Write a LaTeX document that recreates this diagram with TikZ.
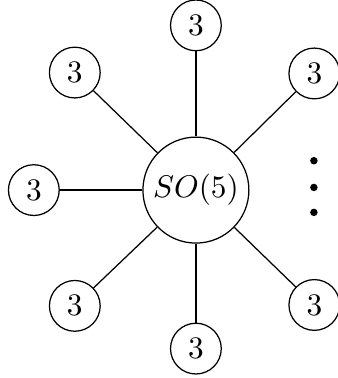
\documentclass[tikz,border=0pt]{standalone}
\begin{document}
\begin{tikzpicture}[flav/.style={draw, circle, minimum size=0.57cm, inner sep=0pt}]
    \useasboundingbox (-2.20,-2.11) rectangle (1.585,2.135);

    % Draw the gauge node
    \node[draw, circle, minimum size=1.19cm, inner sep=0pt] (so5) at (0, 0) {$SO(5)$};

    % Draw the flavour nodes
    \node[flav] (top) at (0, 1.85) {$3$};
    \node[flav] (topleft) at (-1.36, 1.32) {$3$};
    \node[flav] (left) at (-1.82, 0) {$3$};
    \node[flav] (botleft) at (-1.36, -1.30) {$3$};
    \node[flav] (bot) at (0, -1.78) {$3$};
    \node[flav] (botright) at (1.33, -1.29) {$3$};
    \node[flav] (topright) at (1.33, 1.31) {$3$};

    % Draw connections
    \foreach \n in {top, topleft, left, botleft, bot, botright, topright}
        \draw (so5) -- (\n);

    % Draw the dots
    \foreach \y in {0.33, 0.03, -0.25}
        \fill (1.325, \y) circle (0.042);
\end{tikzpicture}
\end{document}
